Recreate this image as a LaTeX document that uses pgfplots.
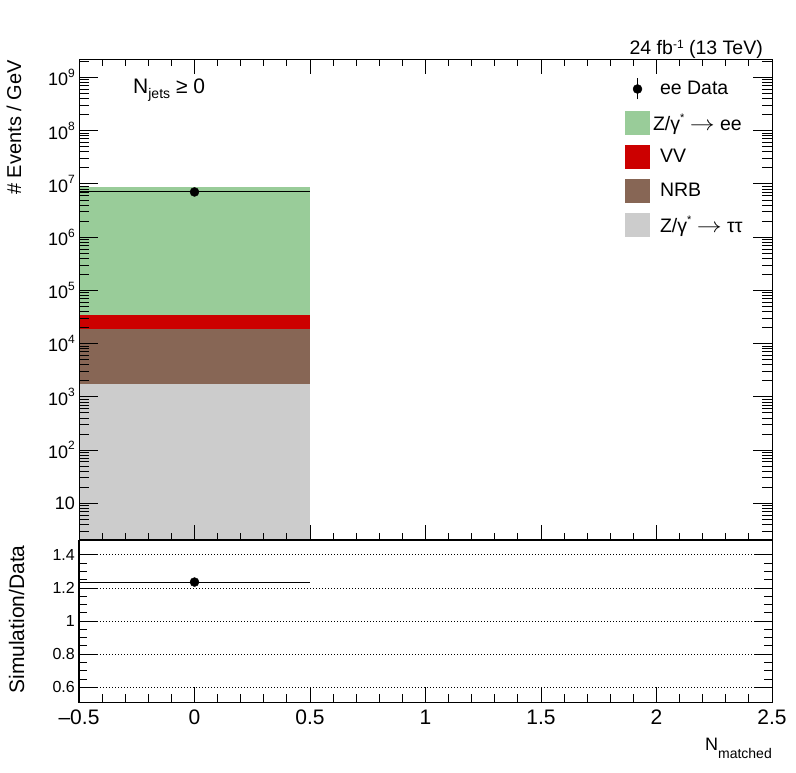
\documentclass[border=0pt]{standalone}
\usepackage{pgfplots}
\pgfplotsset{compat=1.18}
\usepackage{fontspec}
\setmainfont{Liberation Sans}
\definecolor{zee}{RGB}{153,204,153}
\definecolor{vv}{RGB}{204,0,0}
\definecolor{nrb}{RGB}{135,102,85}
\definecolor{ztt}{RGB}{204,204,204}
\newcommand{\fs}[1]{\fontsize{#1}{#1}\selectfont}
\newcommand{\sus}[3]{\raisebox{#1}{\fontsize{#2}{#2}\selectfont #3}}
\newcommand{\arr}{\scalebox{1.2}[1]{$\rightarrow$}}
\begin{document}
\begin{tikzpicture}[x=1pt,y=1pt]
\useasboundingbox (0,0) rectangle (796,772);
\pgfplotsset{
  rootframe/.style={scale only axis, width=693pt, xmin=-0.5, xmax=2.5,
    axis line style={line width=1pt}, tick style={line width=1pt, black},
    tick align=inside},
  datapt/.style={only marks, mark=*, mark size=4.5pt, black,
    error bars/.cd, x dir=both, x explicit, error mark=none,
    error bar style={line width=1pt, black}},
}
% ---------- top panel: data and y ticks
\begin{axis}[rootframe, at={(79pt,232pt)}, anchor=south west, height=480.7pt,
  ymode=log, ymin=2.05, ymax=2.2e9, axis on top,
  xtick=\empty,
  ytick={10,100,1000,1e4,1e5,1e6,1e7,1e8,1e9},
  yticklabels={10,10\sus{8.5pt}{12}{2},10\sus{8.5pt}{12}{3},10\sus{8.5pt}{12}{4},10\sus{8.5pt}{12}{5},10\sus{8.5pt}{12}{6},10\sus{8.5pt}{12}{7},10\sus{8.5pt}{12}{8},10\sus{8.5pt}{12}{9}},
  minor ytick={3,4,5,6,7,8,9,
    2e1,3e1,4e1,5e1,6e1,7e1,8e1,9e1,
    2e2,3e2,4e2,5e2,6e2,7e2,8e2,9e2,
    2e3,3e3,4e3,5e3,6e3,7e3,8e3,9e3,
    2e4,3e4,4e4,5e4,6e4,7e4,8e4,9e4,
    2e5,3e5,4e5,5e5,6e5,7e5,8e5,9e5,
    2e6,3e6,4e6,5e6,6e6,7e6,8e6,9e6,
    2e7,3e7,4e7,5e7,6e7,7e7,8e7,9e7,
    2e8,3e8,4e8,5e8,6e8,7e8,8e8,9e8,2e9},
  major tick length=19pt, minor tick length=10pt,
  yticklabel style={font=\fs{18}, inner sep=0pt, xshift=-4pt},
]
% stacked histograms (cumulative tops)
\addplot[fill=zee, draw=none] coordinates {(-0.5,1) (-0.5,8.9e6) (0.5,8.9e6) (0.5,1)} --cycle;
\addplot[fill=vv, draw=none] coordinates {(-0.5,1) (-0.5,3.4e4) (0.5,3.4e4) (0.5,1)} --cycle;
\addplot[fill=nrb, draw=none] coordinates {(-0.5,1) (-0.5,1.85e4) (0.5,1.85e4) (0.5,1)} --cycle;
\addplot[fill=ztt, draw=none] coordinates {(-0.5,1) (-0.5,1720) (0.5,1720) (0.5,1)} --cycle;
\addplot[datapt] coordinates {(0,7.08e6) +- (0.5,0)};
\end{axis}
% ---------- top panel: x ticks and legend
\begin{axis}[rootframe, at={(79pt,232pt)}, anchor=south west, height=480.7pt,
  ymin=0, ymax=1, ytick=\empty,
  xtick={-0.5,0,0.5,1,1.5,2,2.5}, minor x tick num=4, xticklabels={},
  major tick length=15pt, minor tick length=7pt,
  legend cell align=left,
  legend style={at={(0.7879,0.9632)}, anchor=north west, draw=none, fill=none,
    inner sep=0pt, outer sep=0pt, row sep=10pt, column sep=10pt,
    nodes={inner sep=0pt}, font=\fs{19.5}},
]
\addlegendimage{legend image code/.code={
  \path[draw=none, fill=none] (0pt,-12pt) rectangle (25pt,12pt);
  \draw[black, line width=1pt] (12.5pt,-10.5pt) -- (12.5pt,10.5pt);
  \fill[black] (12.5pt,0pt) circle (4.5pt);}}
\addlegendentry{ee Data}
\addlegendimage{legend image code/.code={\fill[zee, draw=none] (0pt,-12pt) rectangle (25pt,12pt);}}
\addlegendentry{\hspace*{-7pt}Z/γ\sus{9pt}{11}{*} \arr{} ee}
\addlegendimage{legend image code/.code={\fill[vv, draw=none] (0pt,-12pt) rectangle (25pt,12pt);}}
\addlegendentry{VV}
\addlegendimage{legend image code/.code={\fill[nrb, draw=none] (0pt,-12pt) rectangle (25pt,12pt);}}
\addlegendentry{NRB}
\addlegendimage{legend image code/.code={\fill[ztt, draw=none] (0pt,-12pt) rectangle (25pt,12pt);}}
\addlegendentry{Z/γ\sus{9pt}{11}{*} \arr{} ττ}
\end{axis}
% ---------- ratio panel: data, y ticks, grid
\begin{axis}[rootframe, at={(79pt,69.7pt)}, anchor=south west, height=162.3pt,
  ymin=0.51, ymax=1.49, xtick=\empty,
  ytick={0.6,0.8,1,1.2,1.4}, yticklabels={0.6,0.8,1,1.2,1.4},
  minor y tick num=3,
  major tick length=18pt, minor tick length=8pt,
  ymajorgrids, major grid style={line width=1pt, dash pattern=on 1pt off 2pt, black},
  yticklabel style={font=\fs{16}, inner sep=0pt, xshift=-4pt},
]
\addplot[datapt] coordinates {(0,1.236) +- (0.5,0)};
\end{axis}
% ---------- ratio panel: x ticks and labels
\begin{axis}[rootframe, at={(79pt,69.7pt)}, anchor=south west, height=162.3pt,
  ymin=0, ymax=1, ytick=\empty,
  xtick={-0.5,0,0.5,1,1.5,2,2.5}, xticklabels={–0.5,0,0.5,1,1.5,2,2.5},
  minor x tick num=4, xtick pos=bottom,
  major tick length=15pt, minor tick length=8pt,
  xticklabel style={font=\fs{21}, inner sep=0pt, yshift=-7.7pt},
]
\end{axis}
% ---------- texts
\node[anchor=base east, inner sep=0pt] at (763,717) {\fs{19.5}24 fb\sus{6pt}{12}{-1} (13 TeV)};
\node[anchor=base west, inner sep=0pt] at (133,678.7) {\fs{21}N\raisebox{-5.5pt}{\fs{14}jets}\hspace{6pt}≥ 0};
\node[anchor=base east, inner sep=0pt] at (772,22) {\fs{18}N\raisebox{-8pt}{\fs{14}matched}};
\node[rotate=90, anchor=base east, inner sep=0pt] at (21,712) {\fs{20}\# Events / GeV};
\node[rotate=90, anchor=base, inner sep=0pt] at (24,152.5) {\fs{21}Simulation/Data};
\end{tikzpicture}
\end{document}
